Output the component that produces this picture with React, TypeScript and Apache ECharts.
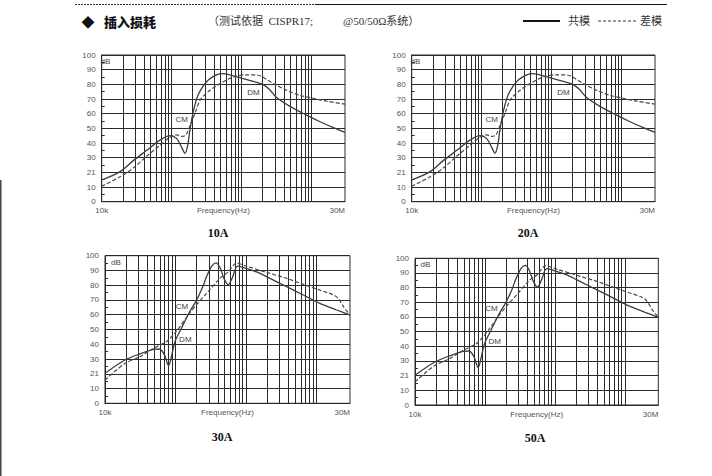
import React, { useEffect, useRef } from 'react';
import * as echarts from 'echarts';

// ---------- data ----------
const X_MIN = 10000;
const X_MAX = 30000000;
const yTickLabels = ['0', '10', '21', '30', '40', '50', '60', '70', '80', '90', '100'];
const xEndLabels = ['10k', '30M'];
const xAxisName = 'Frequency(Hz)';
const panelNames = ['10A', '20A', '30A', '50A'];
const legendNames = ['共模', '差模'];

// 10A / 20A curves
const freqCmLow = [10000, 18300, 28300, 44000, 68000, 94700, 118000, 139000, 155000, 169000, 180000, 195000, 215000, 240000, 283000, 334000, 416000, 518000, 681000, 946000, 1470000, 2000000, 2500000, 3160000, 4900000, 8490000, 13200000, 20400000, 30000000];
const cmLow = [14.8, 20.5, 28, 35, 42, 45, 43, 37, 33, 38, 47, 57, 66, 73, 79, 83, 86, 87.3, 86.5, 84.5, 82, 80, 76.5, 71, 65, 59, 54.5, 50.5, 47.3];
const freqDmLow = [10000, 18300, 28300, 44000, 68000, 94700, 118000, 139000, 160000, 183000, 215000, 257000, 354000, 491000, 760000, 1170000, 1640000, 2830000, 4390000, 6800000, 10500000, 16400000, 30000000];
const dmLow = [10.5, 17, 23, 31, 38.5, 44, 45.5, 44.5, 45.5, 52, 60, 69.5, 76, 80.5, 85, 86.5, 86.4, 80.5, 76, 72.5, 70.5, 68.5, 66.5];

// 30A / 50A curves
const freqCmHigh = [10000, 19200, 31400, 48600, 59000, 69500, 80000, 88000, 98500, 122000, 161000, 200000, 249000, 277000, 327000, 376000, 428000, 488000, 562000, 640000, 760000, 918000, 1420000, 2200000, 3790000, 6530000, 11200000, 19400000, 30000000];
const cmHigh = [20.3, 29.3, 33.5, 36.5, 36.8, 33, 25.5, 32, 41.8, 51, 62.5, 70, 80, 86, 93, 95.2, 92, 84.6, 80.3, 85, 93, 92, 89, 84.6, 79, 73.4, 67.7, 63.2, 59.8];
const freqDmHigh = [10000, 19200, 31400, 48600, 75000, 93000, 116000, 161000, 200000, 277000, 428000, 560000, 740000, 1000000, 2200000, 3790000, 6530000, 11200000, 17600000, 20500000, 24200000, 30000000];
const dmHigh = [15.8, 27, 31.6, 37.2, 41.8, 46.3, 52, 61.5, 67, 74.5, 84.7, 89, 95, 93, 88, 84.6, 80.6, 76.7, 73.4, 71, 65.5, 59.8];

// annotation anchor points [freq, dB]
const cmTagLow = [139000, 55.7];
const dmTagLow = [1470000, 74.3];
const cmTagHigh = [124000, 65.7];
const dmTagHigh = [138000, 43];
const dbTag = [[11300, 95.9], [11300, 95.9], [14300, 95.5], [14100, 95.5]];

// vertical grid lines (1..9 per decade, 10k .. 10M)
const gridFreqs: number[] = [];
for (let e = 4; e <= 6; e++) for (let k = 2; k <= 10; k++) gridFreqs.push(k * Math.pow(10, e));

// ---------- layout ----------
const panels = [
  { grid: { left: 101.7, top: 55, width: 243.3, height: 146.7 }, cm: [freqCmLow, cmLow], dm: [freqDmLow, dmLow], tags: [cmTagLow, dmTagLow], title: [218, 233] },
  { grid: { left: 411.7, top: 55, width: 243.3, height: 146.7 }, cm: [freqCmLow, cmLow], dm: [freqDmLow, dmLow], tags: [cmTagLow, dmTagLow], title: [528, 233] },
  { grid: { left: 105, top: 255.7, width: 245, height: 147.6 }, cm: [freqCmHigh, cmHigh], dm: [freqDmHigh, dmHigh], tags: [cmTagHigh, dmTagHigh], title: [222, 437] },
  { grid: { left: 415, top: 258.3, width: 243.3, height: 146.7 }, cm: [freqCmHigh, cmHigh], dm: [freqDmHigh, dmHigh], tags: [cmTagHigh, dmTagHigh], title: [535, 438] },
];

const GRID_COLOR = '#2a2a2a';
const LABEL_COLOR = '#555';
const SANS = '"Liberation Sans", Arial, sans-serif';
const SERIF = '"Liberation Serif", "Noto Sans CJK SC", serif';
const CJK = '"Liberation Serif", "Noto Sans CJK SC", sans-serif';

function zip(xs: number[], ys: number[]) {
  return xs.map((x, i) => [x, ys[i]]);
}

function buildOption() {
  const grids: any[] = [];
  const xAxes: any[] = [];
  const yAxes: any[] = [];
  const series: any[] = [];
  const graphic: any[] = [];

  panels.forEach((p, i) => {
    grids.push({ ...p.grid, show: true, borderColor: GRID_COLOR, borderWidth: 1, backgroundColor: 'transparent', containLabel: false });
    xAxes.push({
      gridIndex: i,
      type: 'log',
      logBase: 10,
      min: X_MIN,
      max: X_MAX,
      name: xAxisName,
      nameLocation: 'middle',
      nameGap: 5,
      nameMoveOverlap: false,
      nameTextStyle: { color: LABEL_COLOR, fontSize: 8, fontFamily: SANS, verticalAlign: 'top' },
      axisLine: { show: true, lineStyle: { color: GRID_COLOR, width: 1 } },
      axisTick: { show: false },
      splitLine: { show: false },
      axisLabel: {
        color: LABEL_COLOR,
        fontSize: 8,
        fontFamily: SANS,
        margin: 5,
        showMinLabel: true,
        showMaxLabel: true,
        alignMaxLabel: 'right',
        formatter: (v: number) => (v <= X_MIN * 1.001 ? xEndLabels[0] : v >= X_MAX * 0.99 ? xEndLabels[1] : ''),
      },
    });
    yAxes.push({
      gridIndex: i,
      type: 'value',
      min: 0,
      max: 100,
      interval: 10,
      axisLine: { show: true, lineStyle: { color: GRID_COLOR, width: 1 } },
      axisTick: { show: false, inside: true },
      minorTick: { show: true, splitNumber: 2, length: 3, lineStyle: { color: GRID_COLOR, width: 1 } },
      splitLine: { show: true, lineStyle: { color: GRID_COLOR, width: 1 } },
      axisLabel: {
        color: LABEL_COLOR,
        fontSize: 8,
        fontFamily: SANS,
        margin: 6,
        formatter: (v: number) => yTickLabels[Math.round(v / 10)] ?? '',
      },
    });

    const [cmTag, dmTag] = p.tags;
    series.push({
      name: legendNames[0],
      type: 'line',
      xAxisIndex: i,
      yAxisIndex: i,
      data: zip(p.cm[0], p.cm[1]),
      smooth: 0.3,
      showSymbol: false,
      symbol: 'none',
      lineStyle: { color: '#3c3c3c', width: 1.3, type: 'solid' },
      z: 3,
      markLine: {
        silent: true,
        symbol: ['none', 'none'],
        label: { show: false },
        lineStyle: { color: GRID_COLOR, width: 1, type: 'solid' },
        data: gridFreqs.map((f) => ({ xAxis: f })),
        z: 1,
      },
      markPoint: {
        silent: true,
        symbol: 'circle',
        symbolSize: 1,
        itemStyle: { color: 'rgba(0,0,0,0)' },
        label: { show: true, position: 'inside', color: '#444', fontSize: 8, fontFamily: SANS, formatter: (d: any) => d.name },
        data: [
          { name: 'CM', coord: cmTag },
          { name: 'DM', coord: dmTag },
          { name: 'dB', coord: dbTag[i] },
        ],
      },
    });
    series.push({
      name: legendNames[1],
      type: 'line',
      xAxisIndex: i,
      yAxisIndex: i,
      data: zip(p.dm[0], p.dm[1]),
      smooth: 0.3,
      showSymbol: false,
      symbol: 'none',
      lineStyle: { color: '#4a4a4a', width: 1.2, type: [4, 2] },
      z: 3,
    });

    graphic.push({
      type: 'text',
      x: p.title[0],
      y: p.title[1],
      style: { text: panelNames[i], fill: '#111', font: `bold 12px ${SERIF}`, textAlign: 'center', textVerticalAlign: 'middle' },
    });
  });

  // header
  graphic.push(
    { type: 'line', shape: { x1: 75, y1: 4.5, x2: 315, y2: 4.5 }, style: { stroke: '#333', lineWidth: 1, lineDash: [2, 1] } },
    { type: 'line', shape: { x1: 315, y1: 4.5, x2: 667, y2: 4.5 }, style: { stroke: '#111', lineWidth: 1.2 } },
    { type: 'text', x: 88, y: 21, style: { text: '◆', fill: '#111', font: `bold 13px "Noto Sans CJK SC", sans-serif`, textAlign: 'center', textVerticalAlign: 'middle' } },
    { type: 'text', x: 104, y: 21, style: { text: '插入损耗', fill: '#111', font: `900 13px "Noto Sans CJK SC", sans-serif`, textAlign: 'left', textVerticalAlign: 'middle' } },
    { type: 'text', x: 208, y: 21, style: { text: '（测试依据  CISPR17;', fill: '#333', font: `11px ${CJK}`, textAlign: 'left', textVerticalAlign: 'middle' } },
    { type: 'text', x: 343, y: 21, style: { text: '@50/50Ω系统）', fill: '#333', font: `11px ${CJK}`, textAlign: 'left', textVerticalAlign: 'middle' } },
    { type: 'line', shape: { x1: 523, y1: 21, x2: 560, y2: 21 }, style: { stroke: '#111', lineWidth: 2 } },
    { type: 'text', x: 568, y: 21, style: { text: legendNames[0], fill: '#333', font: `11px ${CJK}`, textAlign: 'left', textVerticalAlign: 'middle' } },
    { type: 'line', shape: { x1: 598, y1: 21, x2: 636, y2: 21 }, style: { stroke: '#333', lineWidth: 1, lineDash: [3, 2] } },
    { type: 'text', x: 640, y: 21, style: { text: legendNames[1], fill: '#333', font: `11px ${CJK}`, textAlign: 'left', textVerticalAlign: 'middle' } },
    { type: 'line', shape: { x1: 0.75, y1: 180, x2: 0.75, y2: 476 }, style: { stroke: '#444', lineWidth: 1.5 } },
  );

  return {
    animation: false,
    backgroundColor: '#fff',
    grid: grids,
    xAxis: xAxes,
    yAxis: yAxes,
    series,
    graphic,
  };
}

export default function App() {
  const ref = useRef<HTMLDivElement>(null);
  useEffect(() => {
    if (!ref.current) return;
    const chart = echarts.init(ref.current, undefined, { renderer: 'svg' });
    chart.setOption(buildOption() as any);
    return () => chart.dispose();
  }, []);
  return <div ref={ref} style={{ position: 'fixed', left: 0, top: 0, width: 712, height: 476 }} />;
}
